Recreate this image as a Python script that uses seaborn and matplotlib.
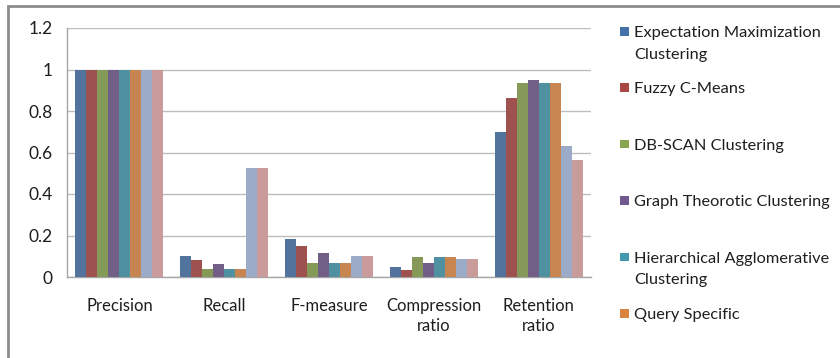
import matplotlib
matplotlib.use("Agg")
import matplotlib.pyplot as plt
from matplotlib.patches import Rectangle
import seaborn as sns
import pandas as pd

# Evaluation measures (x categories)
measures = ["Precision", "Recall", "F-measure", "Compression\nratio", "Retention\nratio"]

# Summarisation methods (hue)
methods = [
    "Expectation Maximization\nClustering",
    "Fuzzy C-Means",
    "DB-SCAN Clustering",
    "Graph Theorotic Clustering",
    "Hierarchical Agglomerative\nClustering",
    "Query Specific",
    "Method 7",
    "Method 8",
]

em_clustering = [1.0, 0.100, 0.184, 0.048, 0.698]
fuzzy_cmeans = [1.0, 0.081, 0.147, 0.035, 0.864]
dbscan = [1.0, 0.037, 0.066, 0.095, 0.934]
graph_theorotic = [1.0, 0.061, 0.115, 0.066, 0.949]
hierarchical = [1.0, 0.037, 0.066, 0.095, 0.934]
query_specific = [1.0, 0.037, 0.066, 0.095, 0.934]
method_7 = [1.0, 0.527, 0.100, 0.085, 0.631]
method_8 = [1.0, 0.527, 0.100, 0.085, 0.566]

series = [em_clustering, fuzzy_cmeans, dbscan, graph_theorotic,
          hierarchical, query_specific, method_7, method_8]

colors = ["#4472A8", "#AA4643", "#89A54E", "#71588F",
          "#4198AF", "#DB843D", "#93A9CF", "#D19392"]

y_ticks = [0, 0.2, 0.4, 0.6, 0.8, 1.0, 1.2]
y_tick_labels = ["0", "0.2", "0.4", "0.6", "0.8", "1", "1.2"]

rows = []
for method, vals in zip(methods, series):
    for m, v in zip(measures, vals):
        rows.append({"measure": m, "method": method, "value": v})
df = pd.DataFrame(rows)

sns.set_style("white")
plt.rcParams["font.family"] = ["Lato", "DejaVu Sans"]

W, H = 840, 358
fig = plt.figure(figsize=(W / 100, H / 100), dpi=100)
ax = fig.add_axes([67 / W, 1 - 277 / H, (591 - 67) / W, (277 - 28) / H])

sns.barplot(data=df, x="measure", y="value", hue="method",
            order=measures, hue_order=methods, palette=colors,
            width=0.84, gap=0, edgecolor="none", linewidth=0,
            errorbar=None, legend=False, ax=ax, zorder=3)

ax.set_xlim(-0.5, len(measures) - 0.5)
ax.set_ylim(0, 1.2)
ax.set_yticks(y_ticks)
ax.set_yticklabels(y_tick_labels, fontsize=12.5, color="#1E1E1E")
ax.set_xlabel("")
ax.set_ylabel("")
ax.grid(axis="y", color="#BDBDBD", linewidth=1.0, zorder=0)
ax.grid(axis="x", visible=False)

for side in ["top", "right"]:
    ax.spines[side].set_visible(False)
for side in ["left", "bottom"]:
    ax.spines[side].set_color("#A6A6A6")
    ax.spines[side].set_linewidth(1.0)

# category labels centred under groups, ticks at group boundaries
ax.set_xticks(range(len(measures)))
ax.set_xticklabels(measures, fontsize=12, color="#1E1E1E", linespacing=1.3,
                   va="top")
ax.tick_params(axis="x", length=0, pad=15)
ax.set_xticks([i - 0.5 for i in range(len(measures) + 1)], minor=True)
ax.tick_params(axis="x", which="minor", length=4, color="#A6A6A6", width=1)
ax.tick_params(axis="y", length=3.6, color="#A6A6A6", width=1, pad=7)

# chart border
fig.patches.append(Rectangle((8 / W, -0.2), 1.2, 1 - 6 / H + 0.2,
                             transform=fig.transFigure, fill=False,
                             edgecolor="#8C8C8C", linewidth=2))

# legend: fixed-height slots, marker beside the first text line
first_baseline = 37
slot_h = 56.4
line_h = 21.5
for i, (method, col) in enumerate(zip(methods, colors)):
    base = first_baseline + slot_h * i
    if base - 12 > H:
        break
    fig.patches.append(Rectangle((620 / W, 1 - (base - 1.5) / H), 8.5 / W, 8.5 / H,
                                 transform=fig.transFigure,
                                 facecolor=col, edgecolor="none"))
    for k, line in enumerate(method.split("\n")):
        fig.text(634 / W, 1 - (base + line_h * k) / H, line, fontsize=11.8,
                 color="#1E1E1E", va="baseline", ha="left")

fig.savefig("out.png", dpi=100, facecolor="white")
